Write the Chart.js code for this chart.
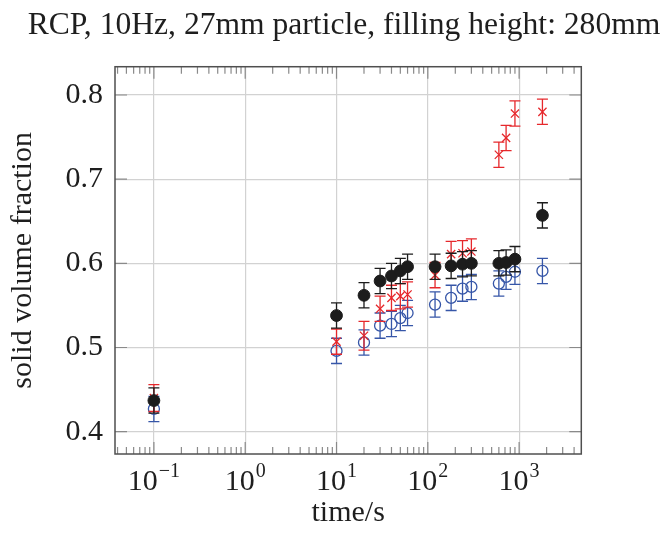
<!DOCTYPE html>
<html>
<head>
<meta charset="utf-8">
<script src="https://cdn.jsdelivr.net/npm/chart.js@4.4.0/dist/chart.umd.min.js"></script>
<style>
html,body{margin:0;padding:0;background:#ffffff;}
#wrap{width:666px;height:533px;position:relative;}
</style>
</head>
<body>
<div id="wrap"><canvas id="c" width="666" height="533"></canvas></div>
<script>
// ---- data ----
const times = [0.1, 10, 20, 30, 40, 50, 60, 120, 180, 240, 300, 600, 720, 900, 1800];
const blackValues = [0.437, 0.538, 0.562, 0.579, 0.585, 0.591, 0.596, 0.596, 0.597, 0.599, 0.600, 0.600, 0.601, 0.605, 0.657];
const blackErrors = [0.015, 0.015, 0.015, 0.015, 0.015, 0.015, 0.015, 0.015, 0.015, 0.015, 0.015, 0.015, 0.015, 0.015, 0.015];
const redValues = [0.440, 0.507, 0.514, 0.546, 0.559, 0.561, 0.563, 0.586, 0.611, 0.612, 0.614, 0.729, 0.749, 0.778, 0.780];
const redErrors = [0.016, 0.015, 0.017, 0.015, 0.015, 0.015, 0.015, 0.015, 0.015, 0.015, 0.015, 0.015, 0.015, 0.015, 0.015];
const blueValues = [0.427, 0.496, 0.506, 0.526, 0.528, 0.535, 0.541, 0.551, 0.559, 0.570, 0.572, 0.576, 0.584, 0.590, 0.591];
const blueErrors = [0.015, 0.015, 0.015, 0.015, 0.015, 0.015, 0.015, 0.015, 0.015, 0.015, 0.015, 0.015, 0.015, 0.015, 0.015];
const xTickExponents = [-1, 0, 1, 2, 3];
const yTicks = [0.4, 0.5, 0.6, 0.7, 0.8];
const titleText = 'RCP, 10Hz, 27mm particle, filling height: 280mm';
const xLabel = 'time/s';
const yLabel = 'solid volume fraction';

// ---- styles ----
const SERIF = "'Liberation Serif', 'DejaVu Serif', serif";
const TEXT = '#1e1e1e';
const GRID = '#d2d2d2';
const FRAME = '#4f4f4f';
const TICKC = '#8a8a8a';
const BLACK = '#1c1c1c';
const RED = '#e6282c';
const BLUE = '#3656a8';
const xMin = 0.0375, xMax = 4797;
const yMin = 0.3735, yMax = 0.8336;

const seriesErrors = [blackErrors, redErrors, blueErrors];
const seriesValues = [blackValues, redValues, blueValues];
const seriesColors = [BLACK, RED, BLUE];

function pts(vals){ return times.map((t,i)=>({x:t, y:vals[i]})); }

const errorBarPlugin = {
  id: 'errorBars',
  beforeDatasetDraw(chart, args) {
    const i = args.index;
    const xs = chart.scales.x, ys = chart.scales.y;
    const ctx = chart.ctx;
    const vals = seriesValues[i], errs = seriesErrors[i];
    ctx.save();
    ctx.strokeStyle = seriesColors[i];
    ctx.lineWidth = 1.3;
    const cap = 5.5;
    for (let k = 0; k < times.length; k++) {
      const px = xs.getPixelForValue(times[k]);
      const pt = ys.getPixelForValue(vals[k] + errs[k]);
      const pb = ys.getPixelForValue(vals[k] - errs[k]);
      ctx.beginPath();
      ctx.moveTo(px, pt); ctx.lineTo(px, pb);
      ctx.moveTo(px - cap, pt); ctx.lineTo(px + cap, pt);
      ctx.moveTo(px - cap, pb); ctx.lineTo(px + cap, pb);
      ctx.stroke();
    }
    ctx.restore();
  }
};

const axisPlugin = {
  id: 'axisDeco',
  beforeDatasetsDraw(chart) {
    const {ctx, chartArea: a} = chart;
    const xs = chart.scales.x, ys = chart.scales.y;
    ctx.save();
    ctx.strokeStyle = TICKC;
    ctx.lineWidth = 1.2;
    ctx.beginPath();
    for (let d = -2; d <= 3; d++) {
      for (let m = 1; m <= 9; m++) {
        const v = m * Math.pow(10, d);
        if (v < xMin || v > xMax) continue;
        const px = xs.getPixelForValue(v);
        const len = m === 1 ? 12 : 7;
        ctx.moveTo(px, a.bottom); ctx.lineTo(px, a.bottom - len);
        ctx.moveTo(px, a.top); ctx.lineTo(px, a.top + len);
      }
    }
    yTicks.forEach(v => {
      const py = ys.getPixelForValue(v);
      ctx.moveTo(a.left, py); ctx.lineTo(a.left + 12, py);
      ctx.moveTo(a.right, py); ctx.lineTo(a.right - 12, py);
    });
    ctx.stroke();
    ctx.restore();
  },
  afterDraw(chart) {
    const {ctx, chartArea: a} = chart;
    const xs = chart.scales.x;
    ctx.save();
    ctx.strokeStyle = FRAME;
    ctx.lineWidth = 1.5;
    ctx.strokeRect(a.left, a.top, a.right - a.left, a.bottom - a.top);
    // x tick labels 10^n
    ctx.fillStyle = TEXT;
    ctx.textBaseline = 'alphabetic';
    ctx.textAlign = 'left';
    const baseY = 490;
    xTickExponents.forEach(e => {
      const px = xs.getPixelForValue(Math.pow(10, e));
      const sup = e < 0 ? '\u2212' + Math.abs(e) : String(e);
      ctx.font = "30px " + SERIF;
      const wb = ctx.measureText('10').width;
      ctx.font = "20px " + SERIF;
      const ws = ctx.measureText(sup).width;
      const start = px - (wb + ws + 1) / 2;
      ctx.font = "30px " + SERIF;
      ctx.fillText('10', start, baseY);
      ctx.font = "20px " + SERIF;
      ctx.fillText(sup, start + wb + 1, baseY - 13);
    });
    ctx.restore();
  }
};

new Chart(document.getElementById('c'), {
  type: 'scatter',
  data: {
    datasets: [
      {label: 'black', data: pts(blackValues), pointStyle: 'circle', pointRadius: 5.9, pointHoverRadius: 5.9,
       backgroundColor: BLACK, borderColor: BLACK, borderWidth: 1, order: 0},
      {label: 'red', data: pts(redValues), pointStyle: 'crossRot', pointRadius: 5.8, pointHoverRadius: 5.8,
       backgroundColor: RED, borderColor: RED, borderWidth: 1.3, order: 1},
      {label: 'blue', data: pts(blueValues), pointStyle: 'circle', pointRadius: 5.5, pointHoverRadius: 5.5,
       backgroundColor: 'rgba(0,0,0,0)', borderColor: BLUE, borderWidth: 1.3, order: 2}
    ]
  },
  options: {
    responsive: false,
    animation: false,
    devicePixelRatio: 1,
    layout: {padding: {left: 22, right: 0, top: 0, bottom: 0}},
    plugins: {
      legend: {display: false},
      tooltip: {enabled: false},
      title: {display: true, text: titleText, color: TEXT,
        font: {family: SERIF, size: 31.6, weight: 'normal', lineHeight: 1.2},
        padding: {top: 7.2, bottom: 21.6}}
    },
    scales: {
      x: {
        type: 'logarithmic', position: 'bottom', min: xMin, max: xMax,
        afterBuildTicks: s => { s.ticks = xTickExponents.map(e => ({value: Math.pow(10, e)})); },
        afterFit: s => { s.height = 79; },
        grid: {color: GRID, lineWidth: 1.2, drawTicks: false},
        border: {display: false},
        ticks: {display: false},
        title: {display: true, text: xLabel, color: TEXT,
          font: {family: SERIF, size: 30, weight: 'normal', lineHeight: 1.2},
          padding: {top: 0, bottom: 2}}
      },
      y: {
        type: 'linear', position: 'left', min: yMin, max: yMax,
        afterBuildTicks: s => { s.ticks = yTicks.map(v => ({value: v})); },
        afterFit: s => { s.width = 93; },
        grid: {color: GRID, lineWidth: 1.2, drawTicks: false},
        border: {display: false},
        ticks: {padding: 12, color: TEXT, font: {family: SERIF, size: 30, weight: 'normal'},
          callback: v => Number(v).toFixed(1)},
        title: {display: true, text: yLabel, color: TEXT,
          font: {family: SERIF, size: 30, weight: 'normal', lineHeight: 0.07},
          padding: 0}
      },
      y2: {
        type: 'linear', position: 'right', display: true,
        grid: {display: false}, border: {display: false}, ticks: {display: false},
        afterFit: s => { s.width = 84.7; }
      }
    }
  },
  plugins: [axisPlugin, errorBarPlugin]
});
</script>
</body>
</html>
